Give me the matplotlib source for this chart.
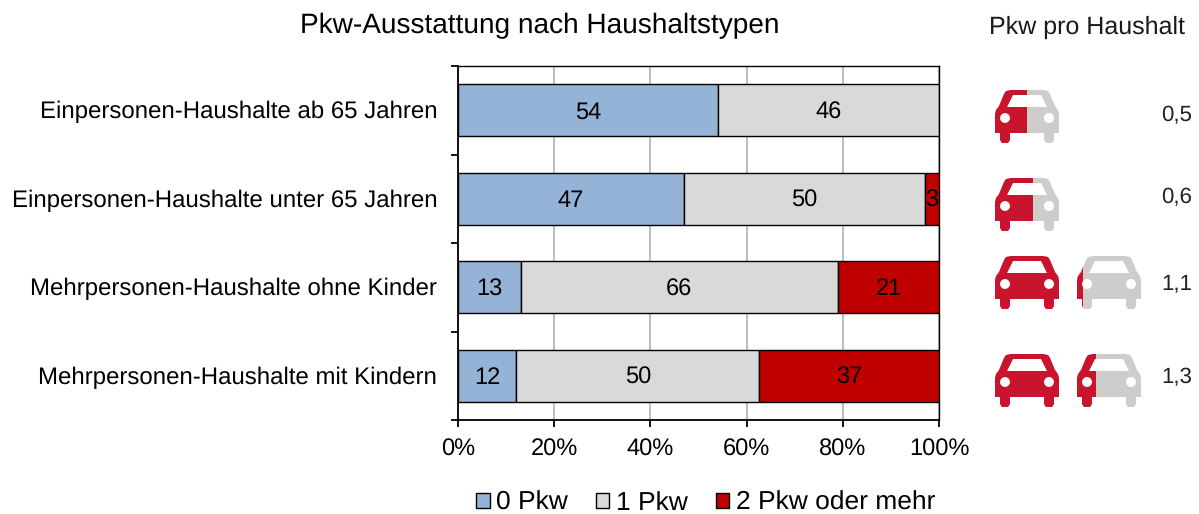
import numpy as np
import matplotlib
matplotlib.use('Agg')
import matplotlib.pyplot as plt
from matplotlib.path import Path
from matplotlib.patches import PathPatch, Rectangle

plt.rcParams['font.family'] = ['Liberation Sans', 'DejaVu Sans']
plt.rcParams['text.hinting'] = 'no_hinting'
plt.rcParams['text.kerning_factor'] = 0

# Data
categories = ['Einpersonen-Haushalte ab 65 Jahren',
              'Einpersonen-Haushalte unter 65 Jahren',
              'Mehrpersonen-Haushalte ohne Kinder',
              'Mehrpersonen-Haushalte mit Kindern']
series_names = ['0 Pkw', '1 Pkw', '2 Pkw oder mehr']
pkw_0 = [54, 47, 13, 12]
pkw_1 = [46, 50, 66, 50]
pkw_2 = [0, 3, 21, 37]
pkw_per_hh = [0.5, 0.6, 1.1, 1.3]
pkw_labels = ['0,5', '0,6', '1,1', '1,3']

COLORS = ['#95B3D7', '#D9D9D9', '#C00000']
CAR_RED = '#C8142D'
CAR_GREY = '#CFCCCC'
W, H = 1199, 514
TEXT_SHIFT = 0.023  # labels sit a little below bar centre

fig = plt.figure(figsize=(W / 100, H / 100), dpi=100)
ax = fig.add_axes([458 / W, 1 - 420 / H, 481 / W, 354 / H])

# 100% stacked bars
vals = np.array([pkw_0, pkw_1, pkw_2], dtype=float)
shares = vals / vals.sum(axis=0) * 100
y = np.arange(len(categories))
left = np.zeros(len(categories))
for i, name in enumerate(series_names):
    ax.barh(y, shares[i], left=left, height=0.59, color=COLORS[i],
            edgecolor='black', linewidth=1.0, label=name, zorder=3)
    for j in range(len(categories)):
        if vals[i, j] > 0:
            ax.text(left[j] + shares[i, j] / 2, y[j] + TEXT_SHIFT, f'{vals[i, j]:.0f}',
                    ha='center', va='center', fontsize=17, color='black',
                    zorder=4, clip_on=True)
    left += shares[i]

ax.set_xlim(0, 100)
ax.set_ylim(3.5, -0.5)
ax.set_xticks(range(0, 101, 20))
ax.set_xticklabels([f'{v}%' for v in range(0, 101, 20)], fontsize=17)
ax.set_yticks(np.arange(-0.5, 4, 1))
ax.set_yticklabels([])
ax.tick_params(axis='y', length=5, width=1.3, direction='out')
ax.tick_params(axis='x', length=5, width=1.3, direction='out', pad=8)
for s in ['left', 'bottom']:
    ax.spines[s].set_linewidth(1.3)
for s in ['top', 'right']:
    ax.spines[s].set_linewidth(1.0)
ax.grid(axis='x', color='#BFBFBF', linewidth=1.5, zorder=0)
ax.set_axisbelow(True)
for j, cat in enumerate(categories):
    ax.text(-4.3, y[j] + TEXT_SHIFT, cat, ha='right', va='center', fontsize=17.25)

fig.text(540 / W, 1 - 26 / H, 'Pkw-Ausstattung nach Haushaltstypen',
         ha='center', va='center', fontsize=20.2)

handles, names = ax.get_legend_handles_labels()
fig.legend(handles, names, ncol=3, loc='center', bbox_to_anchor=(705.5 / W, 1 - 503 / H),
           frameon=False, fontsize=19, handlelength=0.52, handleheight=0.52,
           handletextpad=0.25, columnspacing=1.05, borderpad=0, borderaxespad=0)

# Pictograms: overlay in pixel coordinates
ov = fig.add_axes([0, 0, 1, 1], zorder=5)
ov.set_xlim(0, W)
ov.set_ylim(H, 0)
ov.axis('off')


def car_path(x0, y0):
    # outline one way round, holes the other
    M, L, Z = Path.MOVETO, Path.LINETO, Path.CLOSEPOLY
    pts = [(16, 0), (48, 0), (53, 1), (55, 4), (60, 16), (63, 20), (64, 24), (64, 43),
           (59, 43), (59, 50), (57, 53), (51, 53), (49, 50), (49, 43),
           (15, 43), (15, 50), (13, 53), (7, 53), (5, 50), (5, 43),
           (0, 43), (0, 24), (1, 20), (4, 16), (9, 4), (11, 1), (16, 0)]
    codes = [M] + [L] * (len(pts) - 2) + [Z]
    win = [(12, 17), (52, 17), (46, 5), (18, 5), (12, 17)]
    pts = pts + win
    codes = codes + [M, L, L, L, Z]
    for cx in (10, 54):
        t = np.linspace(2 * np.pi, 0, 25)
        circ = [(cx + 5 * np.cos(a), 28 + 5 * np.sin(a)) for a in t]
        pts = pts + circ
        codes = codes + [M] + [L] * 23 + [Z]
    return Path([(x0 + a, y0 + b) for a, b in pts], codes)


def draw_car(x0, y0, frac):
    p = car_path(x0, y0)
    ov.add_patch(PathPatch(p, facecolor=CAR_GREY, edgecolor='none'))
    red = PathPatch(p, facecolor=CAR_RED, edgecolor='none')
    ov.add_patch(red)
    red.set_clip_path(Rectangle((x0, y0), 64 * frac, 53, transform=ov.transData))


car_y = [90, 178, 256, 354]
label_y = [115, 197, 283, 378]
for j, val in enumerate(pkw_per_hh):
    draw_car(995, car_y[j], min(val, 1.0))
    if val > 1:
        draw_car(1077, car_y[j], val - 1)
    ov.text(1177, label_y[j], pkw_labels[j], ha='center', va='center', fontsize=16,
            color='#222222')

ov.text(1087, 27, 'Pkw pro Haushalt', ha='center', va='center', fontsize=18,
        color='#1A1A1A')

fig.savefig('out.png', dpi=100)
